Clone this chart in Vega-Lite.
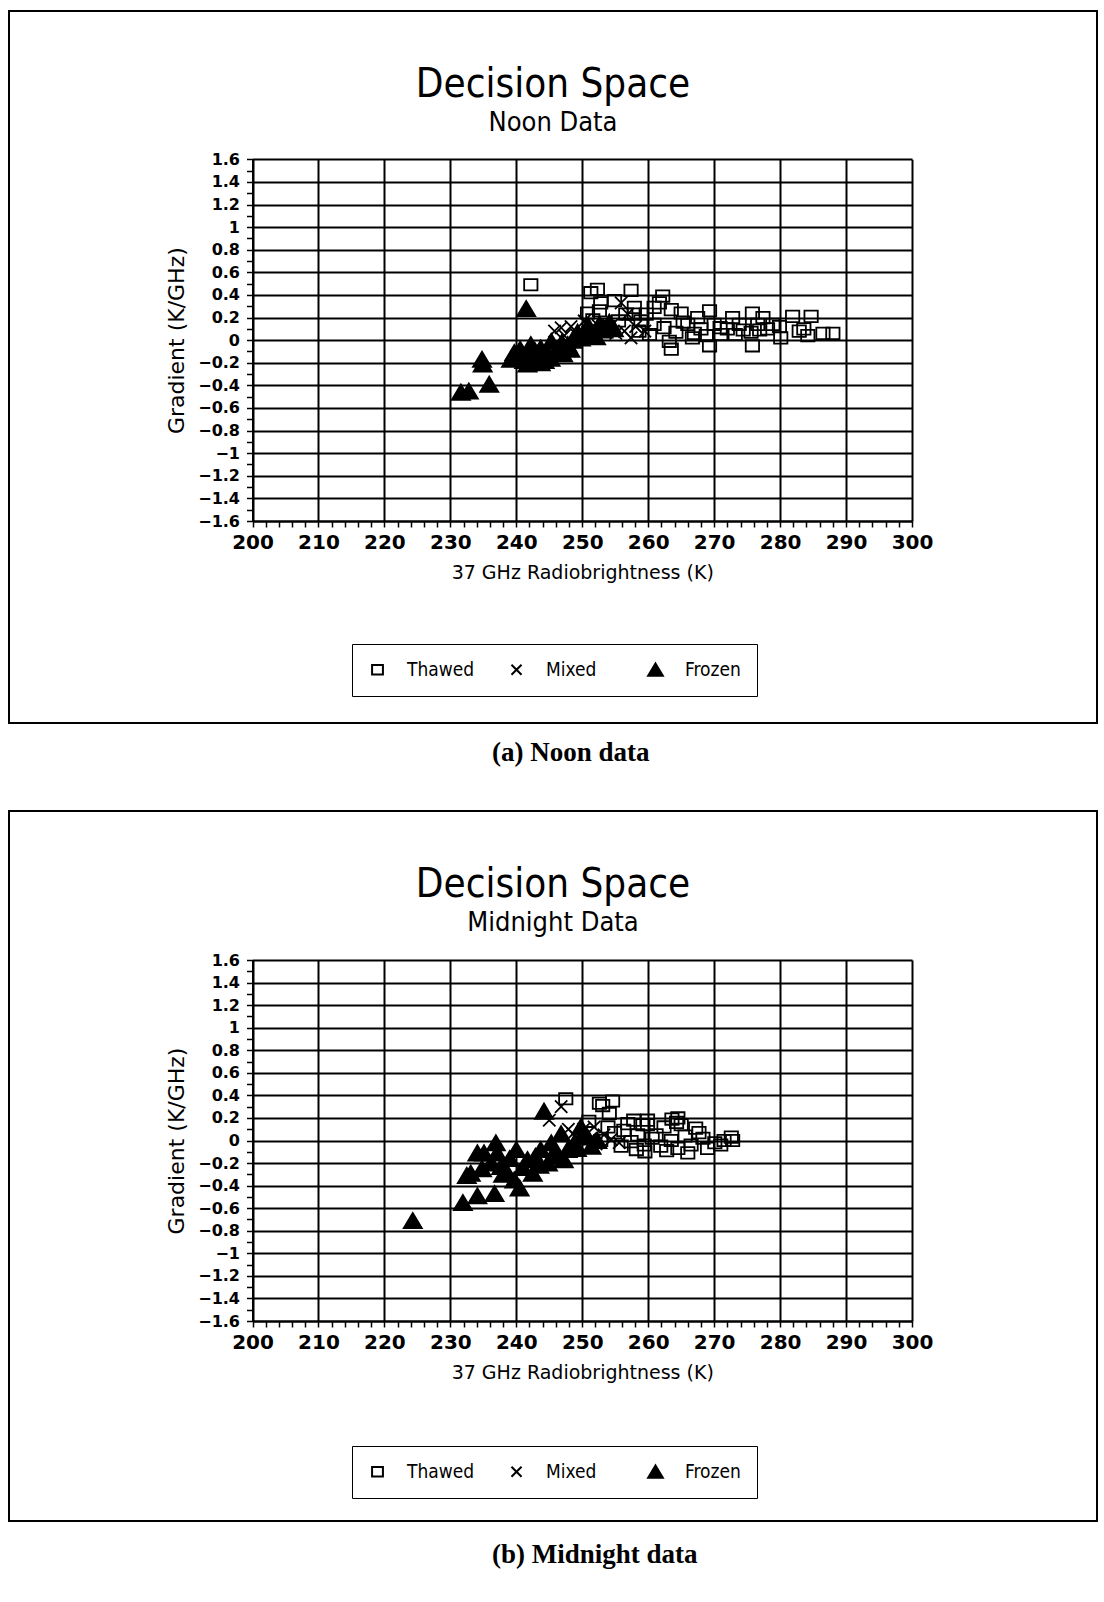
{
  "$schema": "https://vega.github.io/schema/vega-lite/v6.json",
  "background": "white",
  "padding": {"left": 8, "top": 10, "right": 8, "bottom": 0},
  "spacing": 0,
  "datasets": {
    "noon": [
      {"tb": 231.6, "grad": -0.46, "state": "Frozen"}, {"tb": 232.8, "grad": -0.45, "state": "Frozen"}, {"tb": 234.8, "grad": -0.17, "state": "Frozen"}, {"tb": 234.9, "grad": -0.21, "state": "Frozen"}, {"tb": 235.9, "grad": -0.39, "state": "Frozen"}, {"tb": 241.5, "grad": 0.28, "state": "Frozen"}, {"tb": 239.7, "grad": -0.11, "state": "Frozen"}, {"tb": 239.2, "grad": -0.17, "state": "Frozen"}, {"tb": 240.3, "grad": -0.14, "state": "Frozen"}, {"tb": 241.2, "grad": -0.18, "state": "Frozen"}, {"tb": 241.7, "grad": -0.21, "state": "Frozen"}, {"tb": 242.2, "grad": -0.04, "state": "Frozen"}, {"tb": 242.8, "grad": -0.09, "state": "Frozen"}, {"tb": 243.7, "grad": -0.07, "state": "Frozen"}, {"tb": 243.7, "grad": -0.2, "state": "Frozen"}, {"tb": 243.2, "grad": -0.15, "state": "Frozen"}, {"tb": 244.3, "grad": -0.18, "state": "Frozen"}, {"tb": 244.7, "grad": -0.12, "state": "Frozen"}, {"tb": 245.3, "grad": -0.01, "state": "Frozen"}, {"tb": 246.0, "grad": -0.1, "state": "Frozen"}, {"tb": 246.6, "grad": -0.06, "state": "Frozen"}, {"tb": 247.1, "grad": -0.12, "state": "Frozen"}, {"tb": 247.8, "grad": -0.04, "state": "Frozen"}, {"tb": 248.5, "grad": 0.0, "state": "Frozen"}, {"tb": 249.3, "grad": 0.07, "state": "Frozen"}, {"tb": 249.8, "grad": 0.02, "state": "Frozen"}, {"tb": 250.4, "grad": 0.05, "state": "Frozen"}, {"tb": 251.0, "grad": 0.1, "state": "Frozen"}, {"tb": 251.6, "grad": 0.06, "state": "Frozen"}, {"tb": 252.6, "grad": 0.14, "state": "Frozen"}, {"tb": 253.2, "grad": 0.09, "state": "Frozen"}, {"tb": 254.1, "grad": 0.16, "state": "Frozen"}, {"tb": 254.8, "grad": 0.1, "state": "Frozen"}, {"tb": 242.5, "grad": -0.12, "state": "Frozen"}, {"tb": 245.2, "grad": -0.16, "state": "Frozen"}, {"tb": 240.6, "grad": -0.08, "state": "Frozen"}, {"tb": 248.2, "grad": -0.08, "state": "Frozen"}, {"tb": 250.9, "grad": 0.13, "state": "Frozen"}, {"tb": 252.1, "grad": 0.03, "state": "Frozen"}, {"tb": 246.9, "grad": -0.02, "state": "Frozen"},
      {"tb": 245.8, "grad": 0.08, "state": "Mixed"}, {"tb": 246.8, "grad": 0.11, "state": "Mixed"}, {"tb": 248.3, "grad": 0.12, "state": "Mixed"}, {"tb": 249.1, "grad": 0.05, "state": "Mixed"}, {"tb": 250.3, "grad": 0.17, "state": "Mixed"}, {"tb": 251.2, "grad": 0.1, "state": "Mixed"}, {"tb": 252.4, "grad": 0.13, "state": "Mixed"}, {"tb": 253.5, "grad": 0.15, "state": "Mixed"}, {"tb": 254.6, "grad": 0.14, "state": "Mixed"}, {"tb": 255.9, "grad": 0.33, "state": "Mixed"}, {"tb": 256.9, "grad": 0.23, "state": "Mixed"}, {"tb": 256.4, "grad": 0.08, "state": "Mixed"}, {"tb": 257.4, "grad": 0.02, "state": "Mixed"}, {"tb": 258.1, "grad": 0.12, "state": "Mixed"}, {"tb": 255.1, "grad": 0.06, "state": "Mixed"}, {"tb": 253.8, "grad": 0.08, "state": "Mixed"}, {"tb": 250.8, "grad": 0.07, "state": "Mixed"}, {"tb": 259.5, "grad": 0.08, "state": "Mixed"}, {"tb": 247.3, "grad": 0.04, "state": "Mixed"},
      {"tb": 242.2, "grad": 0.49, "state": "Thawed"}, {"tb": 251.3, "grad": 0.42, "state": "Thawed"}, {"tb": 252.3, "grad": 0.45, "state": "Thawed"}, {"tb": 252.8, "grad": 0.33, "state": "Thawed"}, {"tb": 252.6, "grad": 0.26, "state": "Thawed"}, {"tb": 250.8, "grad": 0.24, "state": "Thawed"}, {"tb": 251.6, "grad": 0.18, "state": "Thawed"}, {"tb": 254.9, "grad": 0.35, "state": "Thawed"}, {"tb": 257.4, "grad": 0.44, "state": "Thawed"}, {"tb": 257.9, "grad": 0.29, "state": "Thawed"}, {"tb": 257.9, "grad": 0.23, "state": "Thawed"}, {"tb": 256.6, "grad": 0.23, "state": "Thawed"}, {"tb": 258.9, "grad": 0.17, "state": "Thawed"}, {"tb": 259.7, "grad": 0.23, "state": "Thawed"}, {"tb": 260.9, "grad": 0.29, "state": "Thawed"}, {"tb": 260.9, "grad": 0.14, "state": "Thawed"}, {"tb": 262.2, "grad": 0.39, "state": "Thawed"}, {"tb": 261.7, "grad": 0.33, "state": "Thawed"}, {"tb": 263.5, "grad": 0.27, "state": "Thawed"}, {"tb": 265.0, "grad": 0.24, "state": "Thawed"}, {"tb": 263.2, "grad": -0.01, "state": "Thawed"}, {"tb": 263.5, "grad": -0.08, "state": "Thawed"}, {"tb": 266.0, "grad": 0.14, "state": "Thawed"}, {"tb": 266.7, "grad": 0.02, "state": "Thawed"}, {"tb": 267.5, "grad": 0.2, "state": "Thawed"}, {"tb": 268.0, "grad": 0.1, "state": "Thawed"}, {"tb": 268.8, "grad": 0.04, "state": "Thawed"}, {"tb": 269.3, "grad": 0.26, "state": "Thawed"}, {"tb": 269.3, "grad": -0.05, "state": "Thawed"}, {"tb": 270.0, "grad": 0.14, "state": "Thawed"}, {"tb": 271.0, "grad": 0.05, "state": "Thawed"}, {"tb": 272.0, "grad": 0.1, "state": "Thawed"}, {"tb": 272.8, "grad": 0.2, "state": "Thawed"}, {"tb": 273.8, "grad": 0.14, "state": "Thawed"}, {"tb": 275.6, "grad": 0.07, "state": "Thawed"}, {"tb": 275.8, "grad": 0.24, "state": "Thawed"}, {"tb": 275.8, "grad": -0.05, "state": "Thawed"}, {"tb": 276.6, "grad": 0.14, "state": "Thawed"}, {"tb": 277.4, "grad": 0.2, "state": "Thawed"}, {"tb": 278.1, "grad": 0.1, "state": "Thawed"}, {"tb": 279.9, "grad": 0.12, "state": "Thawed"}, {"tb": 280.1, "grad": 0.02, "state": "Thawed"}, {"tb": 281.9, "grad": 0.21, "state": "Thawed"}, {"tb": 282.9, "grad": 0.08, "state": "Thawed"}, {"tb": 284.2, "grad": 0.04, "state": "Thawed"}, {"tb": 284.7, "grad": 0.21, "state": "Thawed"}, {"tb": 286.5, "grad": 0.06, "state": "Thawed"}, {"tb": 288.0, "grad": 0.06, "state": "Thawed"}, {"tb": 253.9, "grad": 0.12, "state": "Thawed"}, {"tb": 255.5, "grad": 0.17, "state": "Thawed"}, {"tb": 258.6, "grad": 0.08, "state": "Thawed"}, {"tb": 260.2, "grad": 0.05, "state": "Thawed"}, {"tb": 262.4, "grad": 0.11, "state": "Thawed"}, {"tb": 264.2, "grad": 0.07, "state": "Thawed"}, {"tb": 265.3, "grad": 0.16, "state": "Thawed"}, {"tb": 267.0, "grad": 0.06, "state": "Thawed"}, {"tb": 270.9, "grad": 0.11, "state": "Thawed"}, {"tb": 274.4, "grad": 0.09, "state": "Thawed"}, {"tb": 276.9, "grad": 0.09, "state": "Thawed"}, {"tb": 273.2, "grad": 0.05, "state": "Thawed"}, {"tb": 278.9, "grad": 0.14, "state": "Thawed"}, {"tb": 283.6, "grad": 0.1, "state": "Thawed"}
    ],
    "midnight": [
      {"tb": 224.3, "grad": -0.71, "state": "Frozen"}, {"tb": 231.9, "grad": -0.55, "state": "Frozen"}, {"tb": 234.1, "grad": -0.49, "state": "Frozen"}, {"tb": 236.7, "grad": -0.47, "state": "Frozen"}, {"tb": 233.1, "grad": -0.29, "state": "Frozen"}, {"tb": 232.5, "grad": -0.31, "state": "Frozen"}, {"tb": 235.1, "grad": -0.11, "state": "Frozen"}, {"tb": 236.9, "grad": -0.02, "state": "Frozen"}, {"tb": 236.2, "grad": -0.2, "state": "Frozen"}, {"tb": 237.7, "grad": -0.23, "state": "Frozen"}, {"tb": 240.0, "grad": -0.08, "state": "Frozen"}, {"tb": 239.7, "grad": -0.35, "state": "Frozen"}, {"tb": 240.5, "grad": -0.42, "state": "Frozen"}, {"tb": 238.7, "grad": -0.29, "state": "Frozen"}, {"tb": 242.5, "grad": -0.29, "state": "Frozen"}, {"tb": 243.7, "grad": -0.08, "state": "Frozen"}, {"tb": 244.2, "grad": 0.26, "state": "Frozen"}, {"tb": 245.3, "grad": -0.02, "state": "Frozen"}, {"tb": 246.8, "grad": 0.06, "state": "Frozen"}, {"tb": 246.3, "grad": -0.14, "state": "Frozen"}, {"tb": 247.8, "grad": -0.08, "state": "Frozen"}, {"tb": 248.8, "grad": -0.02, "state": "Frozen"}, {"tb": 249.8, "grad": 0.12, "state": "Frozen"}, {"tb": 250.8, "grad": 0.03, "state": "Frozen"}, {"tb": 234.1, "grad": -0.11, "state": "Frozen"}, {"tb": 241.7, "grad": -0.17, "state": "Frozen"}, {"tb": 244.8, "grad": -0.2, "state": "Frozen"}, {"tb": 234.8, "grad": -0.25, "state": "Frozen"}, {"tb": 237.1, "grad": -0.11, "state": "Frozen"}, {"tb": 239.0, "grad": -0.16, "state": "Frozen"}, {"tb": 241.0, "grad": -0.24, "state": "Frozen"}, {"tb": 242.9, "grad": -0.14, "state": "Frozen"}, {"tb": 245.9, "grad": -0.09, "state": "Frozen"}, {"tb": 247.2, "grad": -0.17, "state": "Frozen"}, {"tb": 249.2, "grad": -0.07, "state": "Frozen"}, {"tb": 251.4, "grad": -0.05, "state": "Frozen"}, {"tb": 252.3, "grad": 0.0, "state": "Frozen"}, {"tb": 250.2, "grad": 0.07, "state": "Frozen"}, {"tb": 243.5, "grad": -0.22, "state": "Frozen"}, {"tb": 238.0, "grad": -0.3, "state": "Frozen"},
      {"tb": 246.8, "grad": 0.3, "state": "Mixed"}, {"tb": 245.0, "grad": 0.18, "state": "Mixed"}, {"tb": 248.6, "grad": 0.06, "state": "Mixed"}, {"tb": 250.2, "grad": 0.1, "state": "Mixed"}, {"tb": 251.3, "grad": 0.02, "state": "Mixed"}, {"tb": 252.1, "grad": -0.03, "state": "Mixed"}, {"tb": 253.3, "grad": 0.05, "state": "Mixed"}, {"tb": 254.4, "grad": 0.01, "state": "Mixed"}, {"tb": 255.6, "grad": -0.02, "state": "Mixed"}, {"tb": 249.5, "grad": -0.04, "state": "Mixed"}, {"tb": 251.8, "grad": 0.12, "state": "Mixed"}, {"tb": 247.9, "grad": 0.1, "state": "Mixed"},
      {"tb": 247.5, "grad": 0.37, "state": "Thawed"}, {"tb": 252.6, "grad": 0.33, "state": "Thawed"}, {"tb": 253.1, "grad": 0.31, "state": "Thawed"}, {"tb": 254.6, "grad": 0.35, "state": "Thawed"}, {"tb": 256.9, "grad": 0.15, "state": "Thawed"}, {"tb": 254.1, "grad": 0.24, "state": "Thawed"}, {"tb": 259.9, "grad": 0.18, "state": "Thawed"}, {"tb": 259.9, "grad": 0.14, "state": "Thawed"}, {"tb": 258.4, "grad": 0.05, "state": "Thawed"}, {"tb": 262.4, "grad": 0.12, "state": "Thawed"}, {"tb": 264.5, "grad": 0.2, "state": "Thawed"}, {"tb": 265.0, "grad": 0.14, "state": "Thawed"}, {"tb": 267.2, "grad": 0.11, "state": "Thawed"}, {"tb": 267.7, "grad": 0.07, "state": "Thawed"}, {"tb": 266.5, "grad": -0.04, "state": "Thawed"}, {"tb": 266.0, "grad": -0.11, "state": "Thawed"}, {"tb": 269.0, "grad": -0.07, "state": "Thawed"}, {"tb": 263.5, "grad": 0.0, "state": "Thawed"}, {"tb": 261.9, "grad": -0.05, "state": "Thawed"}, {"tb": 261.2, "grad": 0.05, "state": "Thawed"}, {"tb": 259.4, "grad": -0.04, "state": "Thawed"}, {"tb": 257.4, "grad": -0.01, "state": "Thawed"}, {"tb": 255.9, "grad": -0.05, "state": "Thawed"}, {"tb": 254.9, "grad": 0.07, "state": "Thawed"}, {"tb": 252.8, "grad": 0.0, "state": "Thawed"}, {"tb": 271.5, "grad": 0.0, "state": "Thawed"}, {"tb": 272.8, "grad": 0.0, "state": "Thawed"}, {"tb": 271.0, "grad": -0.04, "state": "Thawed"}, {"tb": 272.6, "grad": 0.03, "state": "Thawed"}, {"tb": 264.5, "grad": -0.07, "state": "Thawed"}, {"tb": 259.5, "grad": -0.1, "state": "Thawed"}, {"tb": 263.6, "grad": 0.19, "state": "Thawed"}, {"tb": 264.3, "grad": 0.16, "state": "Thawed"}, {"tb": 259.2, "grad": 0.14, "state": "Thawed"}, {"tb": 251.0, "grad": 0.17, "state": "Thawed"}, {"tb": 250.5, "grad": -0.06, "state": "Thawed"}, {"tb": 256.3, "grad": 0.09, "state": "Thawed"}, {"tb": 258.2, "grad": -0.08, "state": "Thawed"}, {"tb": 260.6, "grad": 0.02, "state": "Thawed"}, {"tb": 262.8, "grad": -0.09, "state": "Thawed"}, {"tb": 265.6, "grad": 0.04, "state": "Thawed"}, {"tb": 268.3, "grad": 0.02, "state": "Thawed"}, {"tb": 270.1, "grad": -0.02, "state": "Thawed"}, {"tb": 253.9, "grad": 0.12, "state": "Thawed"}, {"tb": 257.8, "grad": 0.18, "state": "Thawed"}
    ]
  },
  "config": {
    "view": {"stroke": "black", "strokeWidth": 2},
    "axis": {
      "domainColor": "black", "domainWidth": 2,
      "tickColor": "black", "tickWidth": 1.5, "tickSize": 6,
      "gridColor": "black", "gridWidth": 2,
      "labelFont": "DejaVu Sans", "labelFontWeight": "bold", "labelColor": "black",
      "labelOverlap": false, "labelFlush": false, "labelBound": false,
      "titleFont": "DejaVu Sans", "titleFontWeight": "normal", "titleColor": "black"
    },
    "legend": {
      "orient": "none", "direction": "horizontal", "columns": 3, "gridAlign": "all",
      "strokeColor": "black", "fillColor": "white",
      "padding": 16, "symbolSize": 240, "symbolStrokeWidth": 2,
      "labelFont": "DejaVu Sans Condensed", "labelFontSize": 19, "labelColor": "black",
      "labelOffset": 20, "columnPadding": 30
    },
    "title": {
      "anchor": "middle", "frame": "group", "offset": 0,
      "font": "DejaVu Sans Condensed", "fontSize": 40, "fontWeight": "normal", "color": "black",
      "subtitleFont": "DejaVu Sans Condensed", "subtitleFontSize": 27, "subtitleColor": "black", "subtitlePadding": 5
    }
  },
  "resolve": {
    "scale": {"x": "independent", "y": "independent", "shape": "independent", "fill": "independent", "stroke": "independent"},
    "legend": {"shape": "independent", "fill": "independent", "stroke": "independent"}
  },
  "vconcat": [
    {
      "width": 1088, "height": 712,
      "data": {"name": "noon"},
      "title": {"text": "Decision Space", "subtitle": "Noon Data", "dy": 129},
      "resolve": {"axis": {"x": "independent", "y": "independent"}},
      "layer": [
        {
          "mark": {"type": "point", "opacity": 0},
          "encoding": {
            "x": {"field": "tb", "type": "quantitative",
              "scale": {"domain": [200, 300], "range": [243.5, 903], "nice": false, "zero": false},
              "axis": {"orient": "top", "values": [200,210,220,230,240,250,260,270,280,290,300], "grid": true, "labels": false, "ticks": false, "domain": false, "title": null}},
            "y": {"field": "grad", "type": "quantitative",
              "scale": {"domain": [-1.6, 1.6], "range": [510, 148.3], "nice": false, "zero": false}, "axis": null}
          }
        },
        {
          "mark": {"type": "point", "filled": true, "stroke": "black", "strokeWidth": 1.8, "opacity": 1, "size": 361},
          "encoding": {
            "x": {"field": "tb", "type": "quantitative",
              "scale": {"domain": [200, 300], "range": [243.5, 903], "nice": false, "zero": false},
              "axis": {"orient": "bottom", "values": [200,202,204,206,208,210,212,214,216,218,220,222,224,226,228,230,232,234,236,238,240,242,244,246,248,250,252,254,256,258,260,262,264,266,268,270,272,274,276,278,280,282,284,286,288,290,292,294,296,298,300],
                "format": "d", "labelExpr": "datum.value % 10 === 0 ? datum.label : ''",
                "offset": -202, "grid": false,
                "labelFontSize": 20, "labelPadding": 5, "titlePadding": 11, "titleFontSize": 19,
                "title": "37 GHz Radiobrightness (K)"}},
            "y": {"field": "grad", "type": "quantitative",
              "scale": {"domain": [-1.6, 1.6], "range": [510, 148.3], "nice": false, "zero": false},
              "axis": {"orient": "left", "values": [-1.6,-1.5,-1.4,-1.3,-1.2,-1.1,-1,-0.9,-0.8,-0.7,-0.6,-0.5,-0.4,-0.3,-0.2,-0.1,0,0.1,0.2,0.3,0.4,0.5,0.6,0.7,0.8,0.9,1,1.1,1.2,1.3,1.4,1.5,1.6],
                "labelExpr": "abs(round(datum.value*10)) % 2 === 0 ? format(datum.value, '.1~f') : ''",
                "offset": -243.5, "grid": true,
                "gridOpacity": {"condition": {"test": "abs(round(datum.value*10)) % 2 === 0", "value": 1}, "value": 0},
                "labelFontSize": 16, "labelPadding": 7, "titlePadding": 9, "titleFontSize": 22,
                "title": "Gradient   (K/GHz)"}},
            "shape": {"field": "state", "type": "nominal",
              "scale": {"domain": ["Thawed", "Mixed", "Frozen"], "range": ["M-0.7,-0.6L0.7,-0.6L0.7,0.6L-0.7,0.6Z", "M-0.65,-0.65L0.65,0.65M0.65,-0.65L-0.65,0.65", "M0,-0.8L0.95,0.8L-0.95,0.8Z"]},
              "legend": {"title": null, "legendX": 343, "legendY": 633, "symbolStrokeWidth": 2}},
            "fill": {"field": "state", "type": "nominal",
              "scale": {"domain": ["Thawed", "Mixed", "Frozen"], "range": ["transparent", "black", "black"]},
              "legend": {"title": null, "legendX": 343, "legendY": 633, "symbolStrokeWidth": 2}},
            "stroke": {"field": "state", "type": "nominal",
              "scale": {"domain": ["Thawed", "Mixed", "Frozen"], "range": ["black", "black", "black"]},
              "legend": {"title": null, "legendX": 343, "legendY": 633, "symbolStrokeWidth": 2}}
          }
        }
      ]
    },
    {
      "width": 1088, "height": 86,
      "data": {"values": [{"caption": "(a) Noon data"}]},
      "mark": {"type": "text", "font": "Liberation Serif", "fontSize": 27, "fontWeight": "bold", "color": "black", "align": "left", "baseline": "middle", "dx": -61, "dy": -14},
      "encoding": {"text": {"field": "caption", "type": "nominal"}}
    },
    {
      "width": 1088, "height": 710,
      "data": {"name": "midnight"},
      "title": {"text": "Decision Space", "subtitle": "Midnight Data", "dy": 129},
      "resolve": {"axis": {"x": "independent", "y": "independent"}},
      "layer": [
        {
          "mark": {"type": "point", "opacity": 0},
          "encoding": {
            "x": {"field": "tb", "type": "quantitative",
              "scale": {"domain": [200, 300], "range": [243.5, 903], "nice": false, "zero": false},
              "axis": {"orient": "top", "values": [200,210,220,230,240,250,260,270,280,290,300], "grid": true, "labels": false, "ticks": false, "domain": false, "title": null}},
            "y": {"field": "grad", "type": "quantitative",
              "scale": {"domain": [-1.6, 1.6], "range": [510, 149], "nice": false, "zero": false}, "axis": null}
          }
        },
        {
          "mark": {"type": "point", "filled": true, "stroke": "black", "strokeWidth": 1.8, "opacity": 1, "size": 361},
          "encoding": {
            "x": {"field": "tb", "type": "quantitative",
              "scale": {"domain": [200, 300], "range": [243.5, 903], "nice": false, "zero": false},
              "axis": {"orient": "bottom", "values": [200,202,204,206,208,210,212,214,216,218,220,222,224,226,228,230,232,234,236,238,240,242,244,246,248,250,252,254,256,258,260,262,264,266,268,270,272,274,276,278,280,282,284,286,288,290,292,294,296,298,300],
                "format": "d", "labelExpr": "datum.value % 10 === 0 ? datum.label : ''",
                "offset": -200, "grid": false,
                "labelFontSize": 20, "labelPadding": 5, "titlePadding": 11, "titleFontSize": 19,
                "title": "37 GHz Radiobrightness (K)"}},
            "y": {"field": "grad", "type": "quantitative",
              "scale": {"domain": [-1.6, 1.6], "range": [510, 149], "nice": false, "zero": false},
              "axis": {"orient": "left", "values": [-1.6,-1.5,-1.4,-1.3,-1.2,-1.1,-1,-0.9,-0.8,-0.7,-0.6,-0.5,-0.4,-0.3,-0.2,-0.1,0,0.1,0.2,0.3,0.4,0.5,0.6,0.7,0.8,0.9,1,1.1,1.2,1.3,1.4,1.5,1.6],
                "labelExpr": "abs(round(datum.value*10)) % 2 === 0 ? format(datum.value, '.1~f') : ''",
                "offset": -243.5, "grid": true,
                "gridOpacity": {"condition": {"test": "abs(round(datum.value*10)) % 2 === 0", "value": 1}, "value": 0},
                "labelFontSize": 16, "labelPadding": 7, "titlePadding": 9, "titleFontSize": 22,
                "title": "Gradient   (K/GHz)"}},
            "shape": {"field": "state", "type": "nominal",
              "scale": {"domain": ["Thawed", "Mixed", "Frozen"], "range": ["M-0.7,-0.6L0.7,-0.6L0.7,0.6L-0.7,0.6Z", "M-0.65,-0.65L0.65,0.65M0.65,-0.65L-0.65,0.65", "M0,-0.8L0.95,0.8L-0.95,0.8Z"]},
              "legend": {"title": null, "legendX": 343, "legendY": 635, "symbolStrokeWidth": 2}},
            "fill": {"field": "state", "type": "nominal",
              "scale": {"domain": ["Thawed", "Mixed", "Frozen"], "range": ["transparent", "black", "black"]},
              "legend": {"title": null, "legendX": 343, "legendY": 635, "symbolStrokeWidth": 2}},
            "stroke": {"field": "state", "type": "nominal",
              "scale": {"domain": ["Thawed", "Mixed", "Frozen"], "range": ["black", "black", "black"]},
              "legend": {"title": null, "legendX": 343, "legendY": 635, "symbolStrokeWidth": 2}}
          }
        }
      ]
    },
    {
      "width": 1088, "height": 86,
      "data": {"values": [{"caption": "(b) Midnight data"}]},
      "mark": {"type": "text", "font": "Liberation Serif", "fontSize": 27, "fontWeight": "bold", "color": "black", "align": "left", "baseline": "middle", "dx": -61, "dy": -10},
      "encoding": {"text": {"field": "caption", "type": "nominal"}}
    }
  ]
}
